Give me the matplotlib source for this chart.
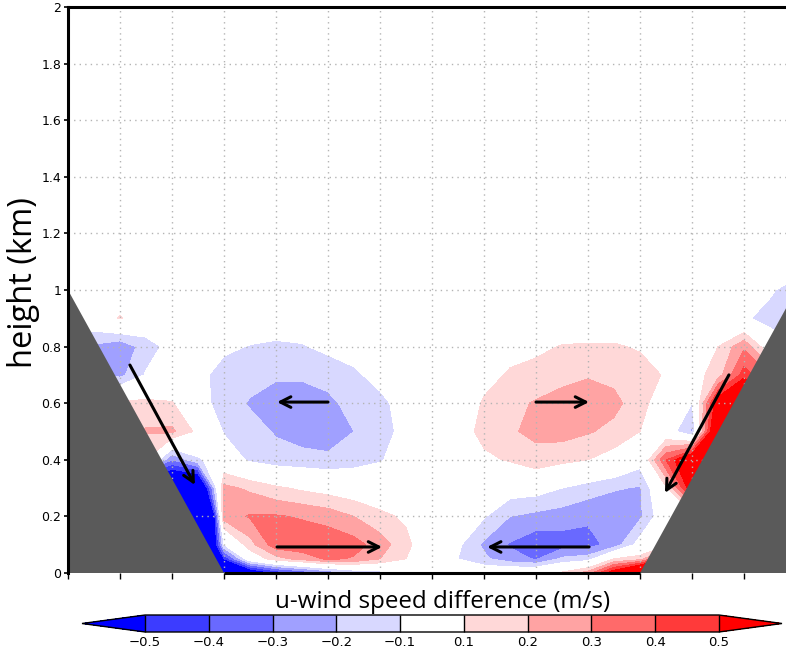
import numpy as np
import matplotlib
matplotlib.use("Agg")
import matplotlib.pyplot as plt
from matplotlib.colors import ListedColormap, BoundaryNorm
from matplotlib.patches import Polygon

# Horizontal grid nodes (grid-line units) and heights (km)
x_nodes = [0.0, 0.5, 1.0, 1.5, 2.0, 2.5, 3.0, 3.5, 4.0, 4.5, 5.0, 5.5, 6.0, 6.5, 7.0,
           7.5, 8.0, 8.5, 9.0, 9.5, 10.0, 10.5, 11.0, 11.5, 12.0, 12.5, 13.0, 13.5, 14.0]
z_nodes = [0.0, 0.05, 0.1, 0.2, 0.3, 0.4, 0.5, 0.6, 0.7, 0.8, 0.9, 1.0, 1.1, 2.0]

# u-wind speed difference (m/s), one row per height level (bottom to top)
u_z000 = [-1.5, -1.5, -1.5, -1.5, -1.5, -1.5, -0.9, -0.7, -0.5, -0.4, -0.3, -0.2, -0.15, -0.1, -0.05,
          0.0, 0.0, 0.02, 0.05, 0.12, 0.25, 0.6, 0.95, 1.0, 1.0, 1.0, 1.0, 1.0, 1.0]
u_z005 = [-1.5, -1.5, -1.5, -1.5, -1.5, -1.5, -0.5, 0.0, 0.16, 0.24, 0.32, 0.29, 0.2, 0.1, 0.0,
          -0.1, -0.18, -0.26, -0.31, -0.18, -0.15, 0.1, 0.15, 0.5, 0.5, 0.5, 0.5, 0.5, 0.5]
u_z010 = [-1.5, -1.5, -1.5, -1.5, -1.5, -1.5, -0.1, 0.16, 0.36, 0.37, 0.37, 0.34, 0.25, 0.13, 0.0,
          -0.08, -0.22, -0.31, -0.37, -0.35, -0.34, -0.26, -0.05, 0.05, 0.0, 0.0, 0.0, 0.0, 0.0]
u_z020 = [-1.5, -1.5, -1.5, -1.5, -1.5, -1.9, 0.25, 0.31, 0.31, 0.29, 0.26, 0.2, 0.13, 0.08, 0.0,
          -0.02, -0.09, -0.2, -0.23, -0.25, -0.28, -0.28, -0.22, 0.0, 0.0, 0.0, 0.0, 0.0, 0.0]
u_z030 = [-0.9, -0.9, -0.9, -0.9, -0.9, -0.9, 0.23, 0.18, 0.12, 0.08, 0.05, 0.02, 0.0, 0.0, 0.0,
          0.0, -0.02, -0.04, -0.05, -0.1, -0.15, -0.19, -0.21, 0.08, 0.6, 0.5, 0.3, 0.3, 0.3]
u_z040 = [-0.3, -0.3, -0.3, 0.1, -0.3, -0.12, -0.02, -0.12, -0.16, -0.17, -0.18, -0.15, -0.11, -0.04, 0.0,
          0.02, 0.08, 0.11, 0.17, 0.13, 0.1, 0.05, -0.05, 0.4, 0.7, 0.8, 0.8, 0.5, 0.3]
u_z050 = [0.0, 0.0, 0.2, 0.21, 0.22, 0.07, -0.11, -0.16, -0.21, -0.24, -0.25, -0.2, -0.15, -0.06, 0.0,
          0.05, 0.13, 0.19, 0.22, 0.24, 0.21, 0.17, 0.1, -0.02, -0.22, 0.8, 0.9, 0.6, 0.3]
u_z060 = [0.0, 0.0, 0.12, 0.13, 0.11, -0.05, -0.15, -0.21, -0.27, -0.27, -0.22, -0.17, -0.13, -0.05, 0.0,
          0.03, 0.11, 0.17, 0.21, 0.25, 0.26, 0.23, 0.14, 0.02, -0.1, 0.6, 0.9, 0.6, 0.3]
u_z070 = [0.0, -0.15, -0.23, -0.09, -0.05, -0.07, -0.14, -0.16, -0.18, -0.18, -0.17, -0.12, -0.06, -0.02, 0.0,
          0.0, 0.07, 0.11, 0.13, 0.16, 0.19, 0.17, 0.14, 0.09, 0.05, 0.15, 0.45, 0.3, 0.0]
u_z080 = [-0.2, -0.22, -0.28, -0.15, -0.06, -0.05, -0.08, -0.105, -0.12, -0.11, -0.07, -0.05, -0.02, 0.0, 0.0,
          0.0, 0.05, 0.07, 0.08, 0.105, 0.11, 0.11, 0.09, 0.06, 0.07, 0.1, 0.28, 0.0, -0.1]
u_z090 = [0.0, 0.0, 0.11, 0.0, 0.0, 0.0, -0.02, -0.03, -0.03, -0.02, -0.01, 0.0, 0.0, 0.0, 0.0,
          0.0, 0.02, 0.03, 0.03, 0.03, 0.03, 0.03, 0.02, 0.0, 0.0, 0.0, -0.08, -0.15, -0.15]
u_z100 = [0.0, 0.0, 0.0, 0.0, 0.0, 0.0, 0.0, 0.0, 0.0, 0.0, 0.0, 0.0, 0.0, 0.0, 0.0,
          0.0, 0.0, 0.0, 0.0, 0.0, 0.0, 0.0, 0.0, 0.0, 0.0, 0.0, -0.02, -0.08, -0.17]
u_z110 = [0.0, 0.0, 0.0, 0.0, 0.0, 0.0, 0.0, 0.0, 0.0, 0.0, 0.0, 0.0, 0.0, 0.0, 0.0,
          0.0, 0.0, 0.0, 0.0, 0.0, 0.0, 0.0, 0.0, 0.0, 0.0, 0.0, 0.0, 0.0, 0.0]
u_z200 = [0.0] * 29

# Contour levels and shading colours
levels = [-0.5, -0.4, -0.3, -0.2, -0.1, 0.1, 0.2, 0.3, 0.4, 0.5]
level_text = ['\u22120.5', '\u22120.4', '\u22120.3', '\u22120.2', '\u22120.1',
              '0.1', '0.2', '0.3', '0.4', '0.5']
shade_colors = ['#3c3cff', '#6969ff', '#a0a0ff', '#d8d8ff', '#ffffff',
                '#ffd8d8', '#ffa3a3', '#ff6a6a', '#ff3a3a']
under_color = '#0000ff'
over_color = '#ff0000'

# Valley side walls: (x, z) corners of each slope
left_wall = [(0.0, 0.0), (3.0, 0.0), (0.0, 1.0)]
right_wall = [(11.0, 0.0), (14.5, 0.0), (14.5, 1.1667)]

# Flow arrows: (start x, start z, end x, end z)
flow_arrows = [
    (1.19, 0.735, 2.44, 0.311),
    (5.0, 0.604, 4.02, 0.604),
    (4.02, 0.092, 6.04, 0.092),
    (9.0, 0.604, 10.02, 0.604),
    (10.02, 0.092, 8.06, 0.092),
    (12.71, 0.70, 11.48, 0.283),
]

ytick_vals = [0, 0.2, 0.4, 0.6, 0.8, 1.0, 1.2, 1.4, 1.6, 1.8, 2.0]
ytick_text = ['0', '0.2', '0.4', '0.6', '0.8', '1', '1.2', '1.4', '1.6', '1.8', '2']

U = np.array([u_z000, u_z005, u_z010, u_z020, u_z030, u_z040, u_z050, u_z060,
              u_z070, u_z080, u_z090, u_z100, u_z110, u_z200])
X, Z = np.meshgrid(np.array(x_nodes), np.array(z_nodes))

W, H = 786, 650
fig = plt.figure(figsize=(W / 100, H / 100), dpi=100)
ax = fig.add_axes([68 / W, 1 - 573 / H, (786 - 68) / W, (573 - 7) / H])

cmap = ListedColormap(shade_colors)
cmap.set_under(under_color)
cmap.set_over(over_color)
norm = BoundaryNorm(levels, cmap.N)

cf = ax.contourf(X, Z, U, levels=levels, cmap=cmap, norm=norm, extend='both', zorder=1)

# dotted grid
xmax = (786 - 68) / 52.0
ax.vlines(range(1, 14), 0, 2, colors='#b4b4b4', linestyles=(0, (1, 3)), lw=1.0, zorder=2)
ax.hlines(ytick_vals[1:-1], 0, xmax, colors='#b4b4b4', linestyles=(0, (1, 3)), lw=1.0, zorder=2)

for wall in (left_wall, right_wall):
    ax.add_patch(Polygon(wall, closed=True, facecolor='#5a5a5a', edgecolor='none', zorder=3))

# valley floor line
ax.plot([3.0, 11.0], [0.0, 0.0], color='black', lw=2.2, zorder=4, clip_on=False,
        solid_capstyle='butt')

for x0, z0, x1, z1 in flow_arrows:
    ax.annotate('', xy=(x1, z1), xytext=(x0, z0),
                arrowprops=dict(arrowstyle='->,head_length=0.75,head_width=0.38',
                                lw=2.2, color='black', shrinkA=0, shrinkB=0),
                zorder=5)

ax.set_xlim(0, xmax)
ax.set_ylim(0, 2)
ax.set_xticks(range(0, 14))
ax.set_xticklabels([])
ax.set_yticks(ytick_vals)
ax.set_yticklabels(ytick_text, fontsize=9, family='DejaVu Sans')
ax.tick_params(axis='y', direction='out', length=3, width=1.2, pad=2)
ax.tick_params(axis='x', direction='out', length=4, width=1.0)

ax.spines['right'].set_visible(False)
ax.spines['bottom'].set_visible(False)
ax.spines['left'].set_linewidth(2.2)
ax.spines['top'].set_linewidth(2.2)
ax.spines['left'].set_zorder(4)

fig.text(24 / W, 1 - 283 / H, 'height (km)', rotation=90, ha='center', va='center',
         fontsize=23.5, family='Open Sans')

fig.text(443 / W, 1 - 608 / H, 'u-wind speed difference (m/s)', ha='center', va='baseline',
         fontsize=17.4, family='Open Sans')

cax = fig.add_axes([82 / W, 1 - 632 / H, (782 - 82) / W, 17 / H])
cb = fig.colorbar(cf, cax=cax, orientation='horizontal', extend='both', extendfrac=0.11,
                  drawedges=True, ticks=levels)
cb.ax.set_xticklabels(level_text, fontsize=9.5, family='DejaVu Sans')
cb.ax.tick_params(length=0, pad=3)
cb.outline.set_linewidth(1.0)
cb.dividers.set_linewidth(1.0)
cb.dividers.set_color('black')

fig.savefig('out.png', dpi=100)
